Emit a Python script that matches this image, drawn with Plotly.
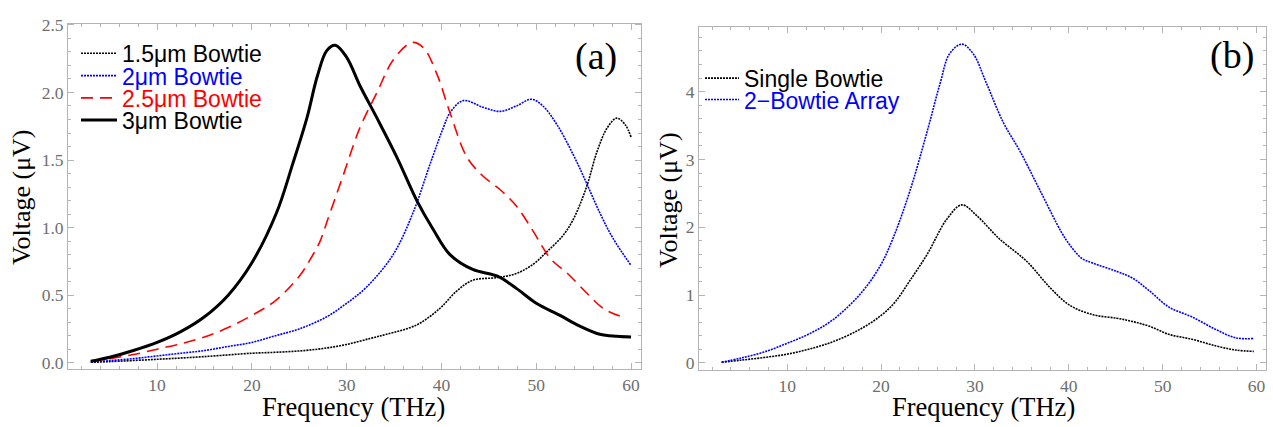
import plotly.graph_objects as go

# ---------------- Data ----------------
# Panel (a)
x_15 = [3, 5, 10, 15, 20, 22.5, 25, 27.5, 30, 32.5, 34.2, 37.4, 39.8, 41.6, 43.3, 45.9, 47.9,
        49.7, 51.1, 52.8, 53.9, 55.3, 56.4, 57.5, 58.5, 59.4, 60]
v_15 = [0.003, 0.008, 0.025, 0.045, 0.07, 0.077, 0.087, 0.105, 0.135, 0.18, 0.21, 0.28, 0.40, 0.53, 0.61, 0.63, 0.66,
        0.73, 0.82, 0.94, 1.06, 1.30, 1.56, 1.74, 1.81, 1.76, 1.67]

x_2 = [3, 5, 7.5, 10, 12.5, 15, 17.5, 20, 22.5, 25, 27.9, 30, 32.1, 34.9, 37, 38.8, 40.2, 40.9,
       42.3, 44.4, 46.2, 47.9, 49.5, 50.7, 52.2, 53.9, 55.3, 56.7, 58.1, 60]
v_2 = [0.005, 0.015, 0.03, 0.05, 0.07, 0.09, 0.12, 0.15, 0.20, 0.25, 0.34, 0.44, 0.56, 0.80, 1.11, 1.47, 1.74, 1.85,
       1.94, 1.89, 1.86, 1.90, 1.95, 1.90, 1.76, 1.54, 1.33, 1.11, 0.92, 0.72]

x_25 = [3, 5, 7.5, 10, 12.5, 15, 17.5, 20, 22.5, 25, 26.2, 27.2, 28, 29.6, 31.4, 33.2, 34.9, 36.9,
        38.1, 39.5, 40.9, 42.7, 44.4, 46.2, 47.9, 49.7, 51.5, 53.3, 55.4, 57.1, 59.0]
v_25 = [0.01, 0.03, 0.06, 0.10, 0.14, 0.19, 0.26, 0.35, 0.46, 0.64, 0.77, 0.90, 1.06, 1.38, 1.74, 2.00, 2.24, 2.37,
        2.33, 2.14, 1.85, 1.52, 1.38, 1.28, 1.16, 0.97, 0.77, 0.66, 0.51, 0.40, 0.34]

x_3 = [3, 5, 7.5, 10, 12.5, 15, 17.5, 20, 22.6, 24.3, 25.8, 26.9, 27.9, 28.8, 30, 31.4, 33.2,
       35.3, 37.4, 39.1, 40.9, 43.3, 45.9, 47.9, 50, 52.5, 54.6, 56.7, 58.5, 60]
v_3 = [0.01, 0.04, 0.09, 0.15, 0.23, 0.34, 0.50, 0.74, 1.11, 1.47, 1.81, 2.12, 2.31, 2.35, 2.26, 2.05, 1.81,
       1.52, 1.20, 0.99, 0.80, 0.69, 0.64, 0.55, 0.44, 0.35, 0.27, 0.21, 0.195, 0.19]

# Panel (b)
x_single = [3, 5, 7.5, 10, 12.5, 15, 17.8, 20, 21.5, 23, 24.9, 27, 28.6, 30.2, 32.6, 35.5, 38, 40.1,
            42.6, 45.1, 46.8, 48.6, 50.7, 53.1, 55.7, 57.8, 59.7]
v_single = [0.01, 0.04, 0.08, 0.13, 0.21, 0.32, 0.50, 0.70, 0.90, 1.20, 1.60, 2.12, 2.33, 2.17, 1.83, 1.50, 1.11, 0.85,
            0.71, 0.66, 0.61, 0.54, 0.42, 0.35, 0.25, 0.19, 0.17]

x_array = [3, 5, 7.5, 10, 12.5, 14.9, 17.8, 19.9, 21.3, 23.1, 24.9, 26.3, 27.3, 28.6, 29.8, 31.2, 33,
           34.8, 36.9, 39.2, 40.1, 41.4, 42.6, 45.1, 46.8, 48.6, 50.7, 53.1, 55.7, 57.8, 59.7]
v_array = [0.01, 0.07, 0.16, 0.29, 0.44, 0.64, 1.02, 1.43, 1.85, 2.55, 3.41, 4.13, 4.56, 4.70, 4.56, 4.13, 3.55,
           3.12, 2.55, 1.93, 1.74, 1.54, 1.47, 1.35, 1.25, 1.06, 0.82, 0.68, 0.49, 0.37, 0.36]

x_ticks = [10, 20, 30, 40, 50, 60]
y_ticks_a = [0.0, 0.5, 1.0, 1.5, 2.0, 2.5]
y_ticks_b = [0, 1, 2, 3, 4]

labels_a = ["1.5μm Bowtie", "2μm Bowtie", "2.5μm Bowtie", "3μm Bowtie"]
labels_b = ["Single Bowtie", "2−Bowtie Array"]

# ---------------- Figure ----------------
W, H = 1273, 427
BLACK, BLUE, RED = "#000000", "#0000ff", "#ff0000"
DOT = "2px,1px"

fig = go.Figure()

def lab(t, c):
    return f'<span style="color:{c}">{t}</span>'

fig.add_trace(go.Scatter(x=x_15, y=v_15, mode="lines", name=lab(labels_a[0], BLACK),
                         line=dict(color=BLACK, width=1.6, dash=DOT, shape="spline"),
                         xaxis="x", yaxis="y", legend="legend"))
fig.add_trace(go.Scatter(x=x_2, y=v_2, mode="lines", name=lab(labels_a[1], BLUE),
                         line=dict(color=BLUE, width=1.6, dash=DOT, shape="spline"),
                         xaxis="x", yaxis="y", legend="legend2"))
fig.add_trace(go.Scatter(x=x_25, y=v_25, mode="lines", name=lab(labels_a[2], RED),
                         line=dict(color=RED, width=1.6, dash="12px,7px", shape="spline"),
                         xaxis="x", yaxis="y", legend="legend3"))
fig.add_trace(go.Scatter(x=x_3, y=v_3, mode="lines", name=lab(labels_a[3], BLACK),
                         line=dict(color=BLACK, width=3, shape="spline"),
                         xaxis="x", yaxis="y", legend="legend4"))

fig.add_trace(go.Scatter(x=x_single, y=v_single, mode="lines", name=lab(labels_b[0], BLACK),
                         line=dict(color=BLACK, width=1.6, dash=DOT, shape="spline"),
                         xaxis="x2", yaxis="y2", legend="legend5"))
fig.add_trace(go.Scatter(x=x_array, y=v_array, mode="lines", name=lab(labels_b[1], BLUE),
                         line=dict(color=BLUE, width=1.6, dash=DOT, shape="spline"),
                         xaxis="x2", yaxis="y2", legend="legend6"))

FRAME = "#b4b4b4"
TICKFONT = dict(family="Liberation Serif", size=17.5, color="#6e6e6e")

def axis(**kw):
    d = dict(showline=True, linecolor=FRAME, linewidth=1, mirror="allticks",
             ticks="inside", ticklen=6, tickcolor=FRAME, tickwidth=1,
             showgrid=False, zeroline=False, tickfont=TICKFONT)
    d.update(kw)
    return d

def minor(dt):
    return dict(ticks="inside", ticklen=3, tickcolor=FRAME, dtick=dt, tick0=0, showgrid=False)

LEGFONT = dict(family="Liberation Sans", size=23, color="black")

def leg(xpx, ypx, iw):
    return dict(x=xpx / W, y=1 - ypx / H, xanchor="left", yanchor="middle",
                bgcolor="rgba(0,0,0,0)", font=LEGFONT, itemwidth=iw,
                borderwidth=0)

fig.update_layout(
    width=W, height=H,
    paper_bgcolor="white", plot_bgcolor="white",
    margin=dict(l=0, r=0, t=0, b=0),
    showlegend=True,
    xaxis=axis(domain=[68 / W, 641 / W], range=[0.6, 61.05], tickvals=x_ticks,
               minor=minor(2), anchor="y"),
    yaxis=axis(domain=[1 - 371 / H, 1 - 16 / H], range=[-0.05, 2.51], tickvals=y_ticks_a,
               tickformat=".1f", minor=minor(0.1), anchor="x"),
    xaxis2=axis(domain=[699 / W, 1266 / W], range=[0.6, 61.0], tickvals=x_ticks,
                minor=minor(2), anchor="y2"),
    yaxis2=axis(domain=[1 - 372 / H, 1 - 19 / H], range=[-0.11, 4.96], tickvals=y_ticks_b,
                minor=minor(0.2), anchor="x2"),
    legend=leg(76, 46.5, 36),
    legend2=leg(76, 69.5, 36),
    legend3=leg(76, 92.3, 36),
    legend4=leg(76, 115, 36),
    legend5=leg(700, 72, 34),
    legend6=leg(700, 94, 34),
)

TITLE = dict(family="Liberation Serif", size=26, color="black")
TITLEX = dict(family="Liberation Serif", size=26.5, color="black")
ann = [
    dict(text="(a)", x=595.5 / W, y=1 - 50 / H, font=dict(family="Liberation Serif", size=38, color="black")),
    dict(text="(b)", x=1232 / W, y=1 - 49 / H, font=dict(family="Liberation Serif", size=38, color="black")),
    dict(text="Voltage (μV)", x=22 / W, y=1 - 195 / H, textangle=-90, font=TITLE),
    dict(text="Voltage (μV)", x=669 / W, y=1 - 197 / H, textangle=-90, font=TITLE),
    dict(text="Frequency (THz)", x=354 / W, y=0, yanchor="bottom", font=TITLEX),
    dict(text="Frequency (THz)", x=983 / W, y=0, yanchor="bottom", font=TITLEX),
]
for a in ann:
    a.setdefault("yanchor", "middle")
    a.update(xref="paper", yref="paper", showarrow=False, xanchor="center")
fig.update_layout(annotations=ann)

fig.write_html("out.html", config={"displayModeBar": False},
               post_script="document.body.style.margin='0';document.body.style.overflow='hidden';")
